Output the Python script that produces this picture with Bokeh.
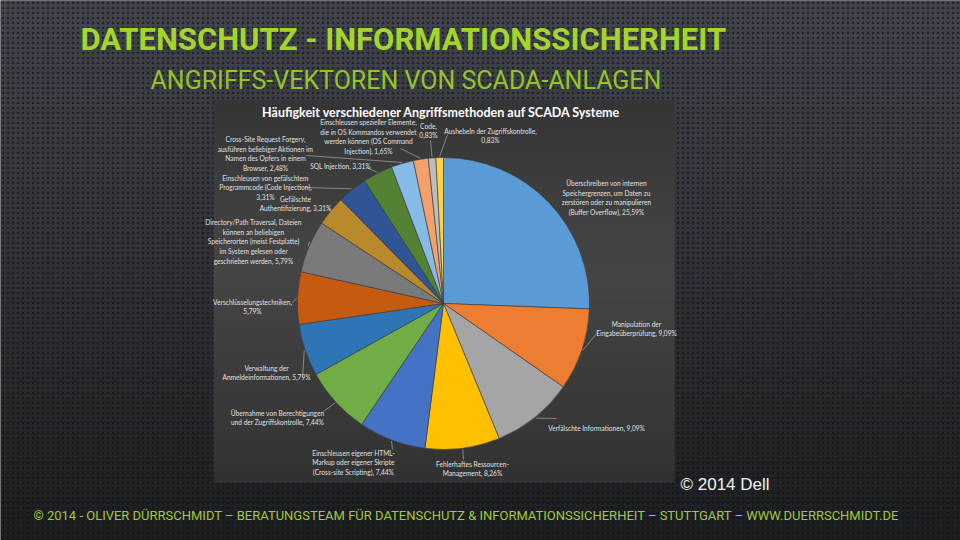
import math
from bokeh.plotting import figure
from bokeh.models import Range1d, ColumnDataSource
from bokeh.core.properties import value
from bokeh.embed import file_html
from bokeh.resources import INLINE

# ---------------- data ----------------
categories = [
    "Überschreiben von internen\nSpeichergrenzen, um Daten zu\nzerstören oder zu manipulieren\n(Buffer Overflow), 25,59%",
    "Manipulation der\nEingabeüberprüfung, 9,09%",
    "Verfälschte Informationen, 9,09%",
    "Fehlerhaftes Ressourcen-\nManagement, 8,26%",
    "Einschleusen eigener HTML-\nMarkup oder eigener Skripte\n(Cross-site Scripting), 7,44%",
    "Übernahme von Berechtigungen\nund der Zugriffskontrolle, 7,44%",
    "Verwaltung der\nAnmeldeinformationen, 5,79%",
    "Verschlüsselungstechniken,\n5,79%",
    "Directory/Path Traversal, Dateien\nkönnen an beliebigen\nSpeicherorten (meist Festplatte)\nim System gelesen oder\ngeschrieben werden, 5,79%",
    "Gefälschte\nAuthentifizierung, 3,31%",
    "Einschleusen von gefälschtem\nProgrammcode (Code Injection),\n3,31%",
    "SQL Injection, 3,31%",
    "Cross-Site Request Forgery,\nausführen beliebiger Aktionen im\nNamen des Opfers in einem\nBrowser, 2,48%",
    "Einschleusen spezieller Elemente,\ndie in OS Kommandos verwendet\nwerden können (OS Command\nInjection), 1,65%",
    "Code,\n0,83%",
    "Aushebeln der Zugriffskontrolle,\n0,83%",
]
shares = [25.59, 9.09, 9.09, 8.26, 7.44, 7.44, 5.79, 5.79, 5.79, 3.31, 3.31, 3.31, 2.48, 1.65, 0.83, 0.83]

title = "DATENSCHUTZ - INFORMATIONSSICHERHEIT"
subtitle = "ANGRIFFS-VEKTOREN VON SCADA-ANLAGEN"
chart_title = "Häufigkeit verschiedener Angriffsmethoden auf SCADA Systeme"
credit = "© 2014 Dell"
footer = "© 2014 - OLIVER DÜRRSCHMIDT – BERATUNGSTEAM FÜR DATENSCHUTZ & INFORMATIONSSICHERHEIT – STUTTGART – WWW.DUERRSCHMIDT.DE"

# ---------------- styles / layout ----------------
colors = ["#5B9BD5", "#ED7D31", "#A5A5A5", "#FFC000", "#4472C4", "#70AD47",
          "#2E75B6", "#C55A11", "#7A7A7A", "#B8892A", "#2F5597", "#548235",
          "#86BBE8", "#F4A06A", "#BDBDBD", "#FFD23F"]
# label centres (screen px) and leader anchor points (screen px)
label_pos = [(606, 197), (636, 328), (596, 427), (472, 468), (353, 462), (277, 417),
             (266, 372), (252, 306), (253, 241), (295, 203), (265, 187), (340, 165),
             (265, 153), (368, 136), (428, 130), (490, 135)]
anchors = [None, (598, 331), (556, 418), (463, 459), (392, 449), (323, 411),
           (302, 377), (292, 302), (309, 241), (328, 207), (304, 187), (366, 167),
           (306, 155), (400, 148), (430, 140), (447, 134)]

W, H = 960, 540
def sy(y):
    return H - y

p = figure(width=W, height=H, output_backend="svg", toolbar_location=None,
           x_range=Range1d(0, W), y_range=Range1d(0, H), min_border=0)
p.axis.visible = False
p.grid.visible = False
p.outline_line_color = None
p.background_fill_color = "#26282c"
p.border_fill_color = "#26282c"

def lerp(c1, c2, t):
    a = [int(c1[i:i+2], 16) for i in (1, 3, 5)]
    b = [int(c2[i:i+2], 16) for i in (1, 3, 5)]
    return "#%02x%02x%02x" % tuple(round(a[k] + (b[k] - a[k]) * t) for k in range(3))

# slide background gradient with dot texture
n = 54
bx, by, bc = [], [], []
for i in range(n):
    bx.append(W / 2)
    by.append(sy(i * 10 + 5))
    t = i / (n - 1)
    bc.append(lerp("#41444b", "#1d1e21", t))
p.rect(x=bx, y=by, width=W, height=10.6, fill_color=bc, line_color=None)
p.rect(x=[W / 2], y=[H / 2], width=W, height=H, fill_alpha=0, line_color=None,
       hatch_pattern="dot", hatch_color="#0e0f11", hatch_scale=5, hatch_weight=2.4, hatch_alpha=0.6)

# chart panel
px0, px1, py0, py1 = 213, 674, 100, 482
m = 38
pc, pyy = [], []
for i in range(m):
    t = i / (m - 1)
    d = abs(t - 0.45) / 0.55
    pc.append(lerp("#454545", "#323232", min(1, d)))
    pyy.append(sy(py0 + (py1 - py0) * (i + 0.5) / m))
p.rect(x=[(px0 + px1) / 2] * m, y=pyy, width=px1 - px0, height=(py1 - py0) / m + 0.6,
       fill_color=pc, line_color=None)

# pie
cx, cy, r = 443, sy(303), 146
total = sum(shares)
starts, ends, mids = [], [], []
cum = 0.0
for s in shares:
    a0 = math.pi / 2 - 2 * math.pi * cum / total
    cum += s
    a1 = math.pi / 2 - 2 * math.pi * cum / total
    starts.append(a0)
    ends.append(a1)
    mids.append((a0 + a1) / 2)
src = ColumnDataSource(dict(start=starts, end=ends, color=colors, name=categories))
p.wedge(x=cx, y=cy, radius=r, start_angle="start", end_angle="end", direction="clock",
        fill_color="color", line_color="#3a3a3a", line_width=0.6, source=src)

# leader lines
lxs, lys = [], []
for a, anc in zip(mids, anchors):
    if anc is None:
        continue
    ex, ey = cx + (r + 1) * math.cos(a), cy + (r + 1) * math.sin(a)
    lxs.append([ex, anc[0]])
    lys.append([ey, sy(anc[1])])
p.multi_line(xs=lxs, ys=lys, line_color="#9a9a9a", line_width=0.8)

# labels
p.text(x=[q[0] for q in label_pos], y=[sy(q[1]) for q in label_pos], text=categories,
       text_font=value("Lato"), text_font_size="6.6px", text_color="#e0e0e0",
       text_align="center", text_baseline="middle", text_line_height=1.2)

# chart title
p.text(x=[441], y=[sy(112)], text=[chart_title], text_font=value("Lato"),
       text_font_style="bold", text_font_size="12.5px", text_color="#ffffff",
       text_align="center", text_baseline="middle")

# slide titles
p.text(x=[80], y=[sy(39)], text=[title], text_font=value("Roboto"),
       text_font_style="bold", text_font_size="31px", text_color="#a4d62a",
       text_align="left", text_baseline="middle")
p.text(x=[150], y=[sy(80)], text=[subtitle], text_font=value("Roboto"),
       text_font_size="25px", text_color="#95c42a",
       text_align="left", text_baseline="middle")
p.text(x=[680], y=[sy(484)], text=[credit], text_font=value("Liberation Sans"),
       text_font_size="17px", text_color="#f2f2f2",
       text_align="left", text_baseline="middle")
p.text(x=[33], y=[sy(515)], text=[footer], text_font=value("Roboto"),
       text_font_size="13px", text_color="#a3c93c",
       text_align="left", text_baseline="middle")

open("out.html", "w").write(file_html(p, INLINE))
